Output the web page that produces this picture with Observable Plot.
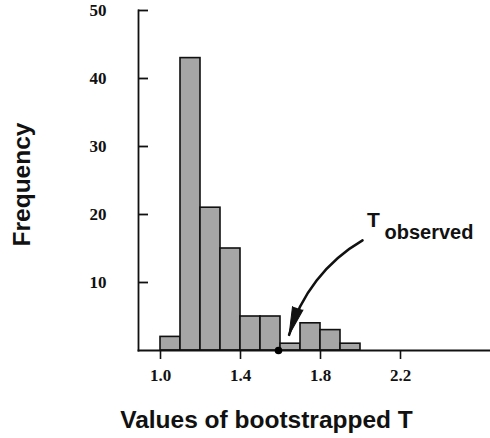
<!DOCTYPE html>
<html><head><meta charset="utf-8">
<script src="https://cdn.jsdelivr.net/npm/d3@7"></script>
<script src="https://cdn.jsdelivr.net/npm/@observablehq/plot@0.6"></script>
<style>body{margin:0;background:#fff}</style>
</head><body><div id="chart"></div>
<script>
// Data
const binStarts = [1.0, 1.1, 1.2, 1.3, 1.4, 1.5, 1.6, 1.7, 1.8, 1.9];
const binWidth = 0.1;
const frequencies = [2, 43, 21, 15, 5, 5, 1, 4, 3, 1];
const xTicks = [1.0, 1.4, 1.8, 2.2];
const yTicks = [10, 20, 30, 40, 50];
const tObserved = 1.59;
const arrowStart = [2.01, 16.2];
const arrowEnd = [1.643, 2.3];
const labelT = [2.065, 19.1];
const labelSub = [2.12, 17.4];

const bins = binStarts.map((s, i) => ({x1: s, x2: s + binWidth, y: frequencies[i]}));

const W = 490, H = 438, mL = 138, mR = 0, mT = 10, mB = 88;
const sans = "Liberation Sans, Arial, sans-serif";

const chart = Plot.plot({
  width: W, height: H,
  marginLeft: mL, marginRight: mR, marginTop: mT, marginBottom: mB,
  x: {domain: [0.89, 2.65]},
  y: {domain: [0, 50]},
  style: {fontFamily: "Liberation Serif, Times New Roman, serif", fontWeight: "bold", fontSize: "17px", background: "#fff", color: "#111"},
  marks: [
    Plot.rectY(bins, {x1: "x1", x2: "x2", y: "y", fill: "#a6a6a6", stroke: "#111", strokeWidth: 1.6}),
    Plot.frame({anchor: "left", stroke: "#111", strokeWidth: 1.8}),
    Plot.frame({anchor: "bottom", stroke: "#111", strokeWidth: 1.8}),
    Plot.tickY(yTicks, {y: d => d, insetRight: W - mL - mR - 10, stroke: "#111", strokeWidth: 1.8}),
    Plot.axisY({ticks: yTicks, tickSize: 0, tickPadding: 32, label: null, fontSize: 17}),
    Plot.axisX({ticks: xTicks, tickSize: 9, tickPadding: 9, tickFormat: d3.format(".1f"), label: null, strokeWidth: 1.6, fontSize: 17}),
    Plot.dot([tObserved], {x: d => d, y: 0, r: 3.8, fill: "#000", stroke: null}),
    Plot.arrow([0], {x1: () => arrowStart[0], y1: () => arrowStart[1], x2: () => arrowEnd[0], y2: () => arrowEnd[1],
      bend: -22, stroke: "#111", strokeWidth: 2.6, headLength: 0}),
    Plot.vector([0], {x: () => arrowEnd[0], y: () => arrowEnd[1], length: 28, rotate: 198, shape: "spike", r: 5.5, anchor: "end", fill: "#111", stroke: "#111", strokeWidth: 1}),
    Plot.text(["T"], {x: () => labelT[0], y: () => labelT[1], text: d => d, fontSize: 21, fontFamily: sans, fontWeight: "bold", fill: "#111"}),
    Plot.text(["observed"], {x: () => labelSub[0], y: () => labelSub[1], text: d => d, fontSize: 20, fontFamily: sans, fontWeight: "bold", textAnchor: "start", fill: "#111"}),
    Plot.text(["Frequency"], {frameAnchor: "left", text: d => d, rotate: -90, textAnchor: "middle", lineAnchor: "middle", dx: -116, dy: 4, fontSize: 24.5, fontFamily: sans, fontWeight: "bold", fill: "#111"}),
    Plot.text(["Values of bootstrapped T"], {frameAnchor: "bottom", text: d => d, textAnchor: "middle", lineAnchor: "middle", dx: -48, dy: 70, fontSize: 24.5, fontFamily: sans, fontWeight: "bold", fill: "#111"})
  ]
});
document.getElementById("chart").appendChild(chart);
</script>
</body></html>
